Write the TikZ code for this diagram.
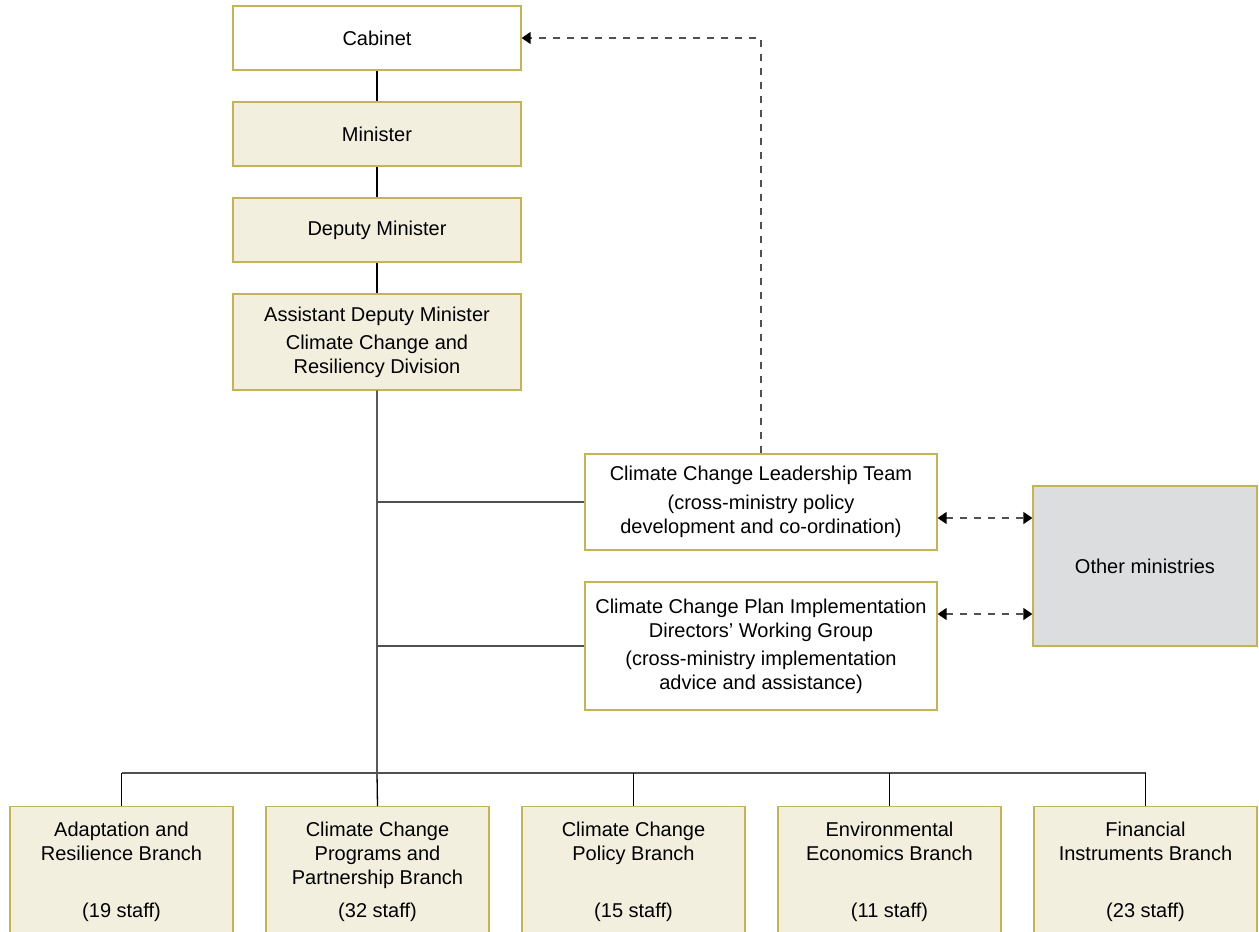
\documentclass[tikz,border=0pt]{standalone}
\usepackage{fontspec}
\setmainfont{Liberation Sans}
\usepackage{tikz}
\usetikzlibrary{arrows.meta}
\usepackage{xcolor}
\definecolor{boxgold}{RGB}{197,179,92}
\definecolor{boxcream}{RGB}{243,239,223}
\definecolor{boxgray}{RGB}{220,221,223}
\definecolor{linegray}{RGB}{80,80,80}
\tikzset{headtip/.tip={Triangle[length=9pt,width=12pt,fill=black,color=black]}}

\begin{document}
\begin{tikzpicture}[x=1pt,y=-1pt,
    orgbox/.style={draw=boxgold,line width=1.3pt,fill=boxcream,align=center,
      minimum width=288pt,minimum height=64pt,inner sep=0pt,
      font=\fontsize{20}{24}\selectfont},
    plainbox/.style={orgbox,fill=white},
    branchbox/.style={orgbox,minimum width=223pt,minimum height=140pt},
    boxtext/.style={align=center,inner sep=0pt,font=\fontsize{20}{24}\selectfont},
    solidline/.style={line width=1.3pt},
    dashline/.style={linegray,line width=1.5pt,dash pattern=on 7pt off 7pt}]
          \clip (0,0) rectangle (1259,932);
          % top of the chain
          \node[plainbox] (cabinet) at (377,38) {Cabinet};
          \node[orgbox] (minister) at (377,134) {Minister};
          \node[orgbox] (deputy) at (377,230) {Deputy Minister};
          \node[orgbox,minimum height=96pt] (adm) at (377,342)
            {Assistant Deputy Minister\\[4pt]Climate Change and\\Resiliency Division};
          % cross-ministry groups
          \node[plainbox,minimum width=352pt,minimum height=96pt] (cclt) at (761,502)
            {Climate Change Leadership Team\\[5pt](cross-ministry policy\\development and co-ordination)};
          \node[plainbox,minimum width=352pt,minimum height=128pt] (ccpi) at (761,646)
            {Climate Change Plan Implementation\\Directors’ Working Group\\[4pt](cross-ministry implementation\\advice and assistance)};
          \node[orgbox,fill=boxgray,minimum width=224pt,minimum height=160pt] (other) at (1145,566)
            {Other ministries};
          % branches
          \foreach \name/\x/\title/\staff in {
              b1/121.5/{Adaptation and\\Resilience Branch}/19,
              b2/377.5/{Climate Change\\Programs and\\Partnership Branch}/32,
              b3/633.5/{Climate Change\\Policy Branch}/15,
              b4/889.5/{Environmental\\Economics Branch}/11,
              b5/1145.5/{Financial\\Instruments Branch}/23} {
            \node[branchbox,anchor=north] (\name) at (\x,806) {};
            \node[boxtext,anchor=north] (\name title) at (\x,822) {\title};
            \node[boxtext,anchor=base] (\name staff) at (\x,917) {(\staff\ staff)};
          }
          \coordinate (bus) at (377,773);
          % solid lines
          \draw[solidline] (cabinet) -- (minister);
          \draw[solidline] (minister) -- (deputy);
          \draw[solidline] (deputy) -- (adm);
          \draw[solidline] (adm.south) -- (bus) -- (b2.north);
          \draw[solidline,linegray] (adm.south|-cclt.west) -- (cclt.west);
          \draw[solidline,linegray] (adm.south|-ccpi.west) -- (ccpi.west);
          \draw[solidline,linegray] (b1.north|-bus) -- (b5.north|-bus);
          \draw[solidline] (b1.north|-bus) -- (b1.north);
          \draw[solidline] (b3.north|-bus) -- (b3.north);
          \draw[solidline] (b4.north|-bus) -- (b4.north);
          \draw[solidline] (b5.north|-bus) -- (b5.north);
          % dashed links
          \draw[dashline,-headtip] (cclt.north) |- (cabinet.east);
          \draw[dashline,headtip-headtip] ([yshift=-16pt]cclt.east) -- ([yshift=-16pt]cclt.east-|other.west);
          \draw[dashline,headtip-headtip] ([yshift=32pt]ccpi.east) -- ([yshift=32pt]ccpi.east-|other.west);
        \end{tikzpicture}
\end{document}
